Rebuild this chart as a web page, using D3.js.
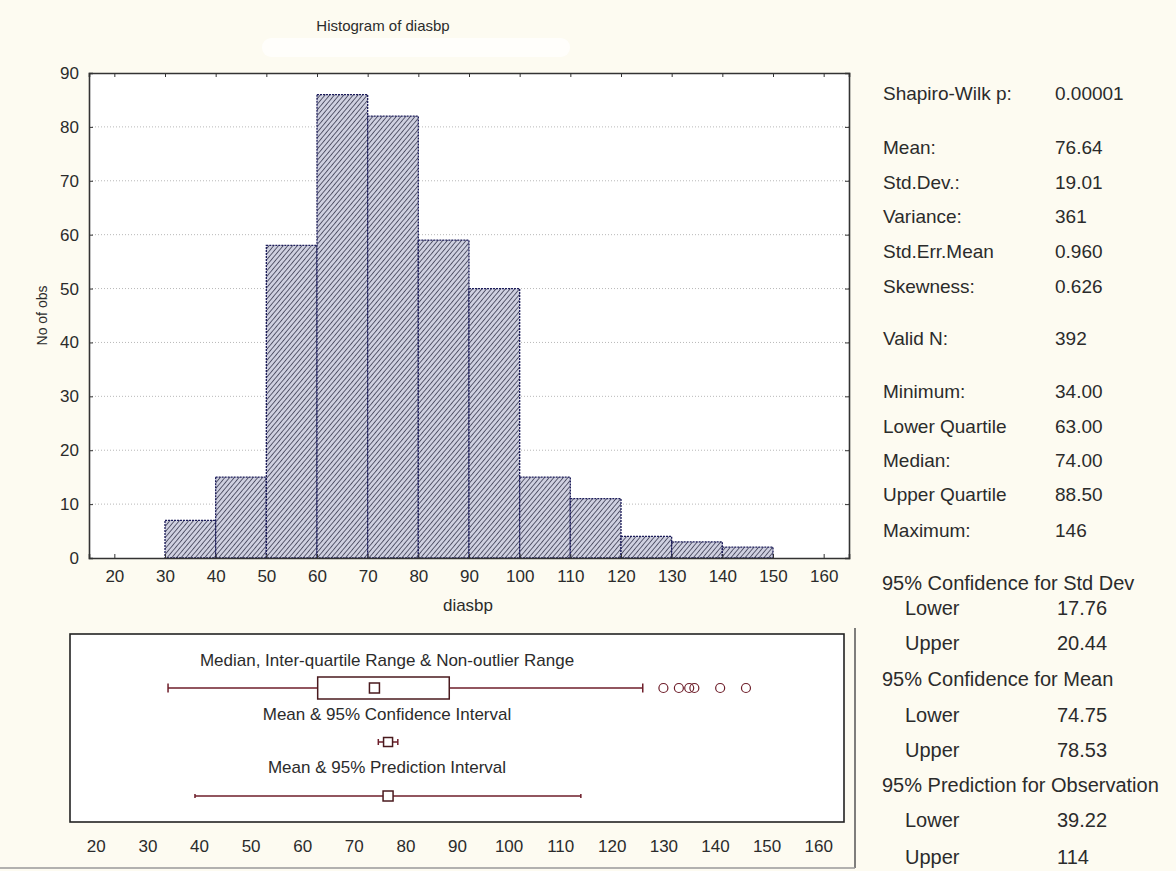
<!DOCTYPE html>
<html>
<head>
<meta charset="utf-8">
<script src="https://cdn.jsdelivr.net/npm/d3@7"></script>
<style>
  body { margin: 0; background: #fdfbf1; }
  svg { display: block; }
  text { font-family: "Liberation Sans", Arial, sans-serif; fill: #2b2b2b; }
</style>
</head>
<body>
<div id="myChart" style="width:1176px;height:871px;"></div>
<script>
/* histogram data: bin edges and counts */
var binEdges = [30, 40, 50, 60, 70, 80, 90, 100, 110, 120, 130, 140, 150];
var binCounts = [7, 15, 58, 86, 82, 59, 50, 15, 11, 4, 3, 2];
var xTicks = [20, 30, 40, 50, 60, 70, 80, 90, 100, 110, 120, 130, 140, 150, 160];
var yTicks = [0, 10, 20, 30, 40, 50, 60, 70, 80, 90];

/* box plot data */
var boxMin = 34, boxQ1 = 63, boxMedian = 74, boxQ3 = 88.5, boxWhiskerHi = 126;
var outliers = [130, 133, 135, 136, 141, 146];
var meanValue = 76.64;
var ciMean = [74.75, 78.53];
var piObs = [39.22, 114];

/* statistics panel */
var statTop = [["Shapiro-Wilk p:", "0.00001", 93],
               ["Mean:", "76.64", 147], ["Std.Dev.:", "19.01", 182], ["Variance:", "361", 216],
               ["Std.Err.Mean", "0.960", 251], ["Skewness:", "0.626", 286],
               ["Valid N:", "392", 338],
               ["Minimum:", "34.00", 391], ["Lower Quartile", "63.00", 426], ["Median:", "74.00", 460],
               ["Upper Quartile", "88.50", 494], ["Maximum:", "146", 530]];
var statBottom = [["95% Confidence for Std Dev", null, 583], ["Lower", "17.76", 608], ["Upper", "20.44", 643],
                  ["95% Confidence for Mean", null, 679], ["Lower", "74.75", 715], ["Upper", "78.53", 750],
                  ["95% Prediction for Observation", null, 785], ["Lower", "39.22", 820], ["Upper", "114", 857]];

var svgWidth = 1176, svgHeight = 871;
/* histogram plot area */
var hLeft = 89, hRight = 849, hTop = 73, hBottom = 558;
/* box plot area */
var bLeft = 70, bRight = 844, bTop = 634, bBottom = 822;

var svg = d3.select("#myChart").append("svg")
    .attr("width", svgWidth)
    .attr("height", svgHeight)
    .style("background-color", "#fdfbf1");

/* hatch pattern for bars */
var defs = svg.append("defs");
var pat = defs.append("pattern")
    .attr("id", "hatch")
    .attr("patternUnits", "userSpaceOnUse")
    .attr("width", 3.6).attr("height", 3.6)
    .attr("patternTransform", "rotate(40)");
pat.append("rect").attr("width", 3.6).attr("height", 3.6).attr("fill", "#cfd0e0");
pat.append("line").attr("x1", 0).attr("y1", 0).attr("x2", 0).attr("y2", 3.6)
    .attr("stroke", "#46475c").attr("stroke-width", 1.7);

/* faint blob under the title */
svg.append("rect")
    .attr("x", 262).attr("y", 38).attr("width", 308).attr("height", 19)
    .attr("rx", 9).attr("fill", "#ffffff").attr("opacity", 0.7);

svg.append("text")
    .attr("x", 383).attr("y", 31)
    .attr("text-anchor", "middle")
    .style("font-size", "15px")
    .text("Histogram of diasbp");

/* scales */
var xScale = d3.scaleLinear().domain([15, 165]).range([hLeft, hRight]);
var yScale = d3.scaleLinear().domain([0, 90]).range([hBottom, hTop]);
var bScale = d3.scaleLinear().domain([15, 165]).range([bLeft, bRight]);

/* plot background */
svg.append("rect")
    .attr("x", hLeft).attr("y", hTop)
    .attr("width", hRight - hLeft).attr("height", hBottom - hTop)
    .attr("fill", "#ffffff");

/* dotted grid */
svg.append("g").selectAll("line")
    .data(yTicks.slice(1, -1))
    .enter().append("line")
    .attr("x1", hLeft).attr("x2", hRight)
    .attr("y1", function (d) { return yScale(d); })
    .attr("y2", function (d) { return yScale(d); })
    .attr("stroke", "#b8b8b8")
    .attr("stroke-dasharray", "1,2");

/* bars */
svg.append("g").selectAll("rect")
    .data(binCounts)
    .enter().append("rect")
    .attr("x", function (d, i) { return xScale(binEdges[i]); })
    .attr("y", function (d) { return yScale(d); })
    .attr("width", function (d, i) { return xScale(binEdges[i + 1]) - xScale(binEdges[i]); })
    .attr("height", function (d) { return yScale(0) - yScale(d); })
    .attr("fill", "url(#hatch)")
    .attr("stroke", "#1c1c5a")
    .attr("stroke-width", 1.3)
    .attr("stroke-dasharray", "2,1");

/* axes, ticks inward on all four sides */
var gAxes = svg.append("g").attr("class", "axes");
var yAxis = d3.axisLeft(yScale).tickValues(yTicks).tickSize(-4).tickPadding(10);
var yAxisR = d3.axisRight(yScale).tickValues(yTicks).tickSize(-4).tickFormat("");
var xAxis = d3.axisBottom(xScale).tickValues(xTicks).tickSize(-4).tickPadding(12);
var xAxisT = d3.axisTop(xScale).tickValues(xTicks).tickSize(-4).tickFormat("");

gAxes.append("g").attr("transform", "translate(" + hLeft + ",0)").call(yAxis);
gAxes.append("g").attr("transform", "translate(" + hRight + ",0)").call(yAxisR);
gAxes.append("g").attr("transform", "translate(0," + hBottom + ")").call(xAxis);
gAxes.append("g").attr("transform", "translate(0," + hTop + ")").call(xAxisT);
gAxes.selectAll(".domain").attr("stroke", "#333").attr("stroke-width", 1.6);
gAxes.selectAll(".tick line").attr("stroke", "#333");
gAxes.selectAll(".tick text").style("font-size", "17px").attr("fill", "#2b2b2b");

svg.append("text")
    .attr("transform", "translate(47," + ((hTop + hBottom) / 2) + ") rotate(-90)")
    .attr("text-anchor", "middle")
    .style("font-size", "14px")
    .text("No of obs");

svg.append("text")
    .attr("x", 468).attr("y", 611)
    .attr("text-anchor", "middle")
    .style("font-size", "17px")
    .text("diasbp");

/* ---- box plot panel ---- */
var boxColor = "#6e1e2a";
var gBox = svg.append("g");
gBox.append("rect")
    .attr("x", bLeft).attr("y", bTop)
    .attr("width", bRight - bLeft).attr("height", bBottom - bTop)
    .attr("fill", "#ffffff").attr("stroke", "#222").attr("stroke-width", 1.6);

/* outer frame lines */
svg.append("line").attr("x1", 855).attr("x2", 855).attr("y1", 628).attr("y2", 868)
    .attr("stroke", "#555").attr("stroke-width", 1.5);
svg.append("line").attr("x1", 0).attr("x2", 855).attr("y1", 868).attr("y2", 868)
    .attr("stroke", "#999").attr("stroke-width", 1.5);

var row1 = 688, row2 = 742, row3 = 796;

function label(txt, y) {
    gBox.append("text")
        .attr("x", 387).attr("y", y)
        .attr("text-anchor", "middle")
        .style("font-size", "17px")
        .text(txt);
}
label("Median, Inter-quartile Range & Non-outlier Range", 666);
label("Mean & 95% Confidence Interval", 720);
label("Mean & 95% Prediction Interval", 773);

function hline(a, b, y) {
    gBox.append("line")
        .attr("x1", bScale(a)).attr("x2", bScale(b))
        .attr("y1", y).attr("y2", y)
        .attr("stroke", boxColor).attr("stroke-width", 1.5);
}
function cap(v, y, h) {
    gBox.append("line")
        .attr("x1", bScale(v)).attr("x2", bScale(v))
        .attr("y1", y - h / 2).attr("y2", y + h / 2)
        .attr("stroke", boxColor).attr("stroke-width", 1.5);
}
function square(v, y, s) {
    gBox.append("rect")
        .attr("x", bScale(v) - s / 2).attr("y", y - s / 2)
        .attr("width", s).attr("height", s)
        .attr("fill", "#ffffff").attr("stroke", "#4a1a1e").attr("stroke-width", 1.5);
}

/* row 1: median / IQR / non-outlier range */
hline(boxMin, boxQ1, row1);
hline(boxQ3, boxWhiskerHi, row1);
cap(boxMin, row1, 9);
cap(boxWhiskerHi, row1, 9);
gBox.append("rect")
    .attr("x", bScale(boxQ1)).attr("y", row1 - 11)
    .attr("width", bScale(boxQ3) - bScale(boxQ1)).attr("height", 22)
    .attr("fill", "#ffffff").attr("stroke", "#4a1a1e").attr("stroke-width", 1.5);
square(boxMedian, row1, 10);
gBox.selectAll("circle.out")
    .data(outliers)
    .enter().append("circle")
    .attr("class", "out")
    .attr("cx", function (d) { return bScale(d); })
    .attr("cy", row1)
    .attr("r", 4.5)
    .attr("fill", "none").attr("stroke", boxColor).attr("stroke-width", 1.2);

/* row 2: mean & CI */
hline(ciMean[0], ciMean[1], row2);
cap(ciMean[0], row2, 6);
cap(ciMean[1], row2, 6);
square(meanValue, row2, 9);

/* row 3: mean & prediction interval */
hline(piObs[0], piObs[1], row3);
cap(piObs[0], row3, 4);
cap(piObs[1], row3, 4);
square(meanValue, row3, 10);

/* box plot axis labels */
var bAxis = d3.axisBottom(bScale).tickValues(xTicks).tickSize(0).tickPadding(18);
var gB = svg.append("g").attr("transform", "translate(0," + bBottom + ")").call(bAxis);
gB.select(".domain").remove();
gB.selectAll(".tick text").style("font-size", "17px").attr("fill", "#2b2b2b");

/* ---- statistics text ---- */
var gStat = svg.append("g");
gStat.selectAll("text.lab")
    .data(statTop)
    .enter().append("text")
    .attr("class", "lab")
    .attr("x", 883).attr("y", function (d) { return d[2]; })
    .attr("dy", "0.35em")
    .style("font-size", "19px")
    .text(function (d) { return d[0]; });
gStat.selectAll("text.val")
    .data(statTop)
    .enter().append("text")
    .attr("class", "val")
    .attr("x", 1055).attr("y", function (d) { return d[2]; })
    .attr("dy", "0.35em")
    .style("font-size", "19px")
    .text(function (d) { return d[1]; });

gStat.selectAll("text.lab2")
    .data(statBottom)
    .enter().append("text")
    .attr("class", "lab2")
    .attr("x", function (d) { return d[1] === null ? 882 : 905; })
    .attr("y", function (d) { return d[2]; })
    .attr("dy", "0.35em")
    .style("font-size", "20px")
    .text(function (d) { return d[0]; });
gStat.selectAll("text.val2")
    .data(statBottom.filter(function (d) { return d[1] !== null; }))
    .enter().append("text")
    .attr("class", "val2")
    .attr("x", 1057).attr("y", function (d) { return d[2]; })
    .attr("dy", "0.35em")
    .style("font-size", "20px")
    .text(function (d) { return d[1]; });
</script>
</body>
</html>
